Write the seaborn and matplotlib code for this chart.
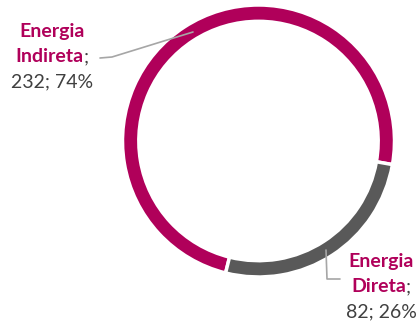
import matplotlib
matplotlib.use("Agg")
import matplotlib.pyplot as plt
import seaborn as sns
from matplotlib.offsetbox import TextArea, HPacker, VPacker, AnnotationBbox

# Data
categories = ["Energia Indireta", "Energia Direta"]
values = [232, 82]
percents = [74, 26]
colors = ["#B0005A", "#595959"]

sns.set_theme(style="white")
plt.rcParams["font.family"] = ["Lato", "DejaVu Sans"]

W, H = 419, 329
fig = plt.figure(figsize=(W / 100, H / 100), dpi=100)

# donut placement (pixels)
cx, cy, r = 258.5, 141, 136
ax = fig.add_axes([(cx - r) / W, (H - cy - r) / H, 2 * r / W, 2 * r / H])
ax.pie(values, colors=colors, startangle=256, counterclock=False, radius=1,
       wedgeprops=dict(width=0.12, edgecolor="white", linewidth=2.5))
ax.set_xlim(-1, 1)
ax.set_ylim(-1, 1)
ax.set_aspect("equal")
ax.axis("off")

label_col = "#B0005A"
text_col = "#404040"
fs = 14


def make_label(name, value, pct):
    first, second = name.split(" ")
    l1 = TextArea(first, textprops=dict(color=label_col, fontsize=fs, fontweight="bold"))
    l2a = TextArea(second, textprops=dict(color=label_col, fontsize=fs, fontweight="bold"))
    l2b = TextArea(";", textprops=dict(color=text_col, fontsize=fs))
    l2 = HPacker(children=[l2a, l2b], align="baseline", pad=0, sep=0)
    l3 = TextArea(f"{value}; {pct}%", textprops=dict(color=text_col, fontsize=fs))
    return VPacker(children=[l1, l2, l3], align="center", pad=0, sep=6)


positions = [(52, H - 57), (381, H - 287)]
for name, v, p, pos in zip(categories, values, percents, positions):
    box = make_label(name, v, p)
    ab = AnnotationBbox(box, pos, xycoords="figure pixels", frameon=False,
                        box_alignment=(0.5, 0.5), pad=0)
    fig.add_artist(ab)

# leader lines
line_col = "#A6A6A6"
fig.add_artist(plt.Line2D([100 / W, 112 / W, 193 / W],
                          [1 - 58 / H, 1 - 57 / H, 1 - 32 / H],
                          color=line_col, lw=1.2))
fig.add_artist(plt.Line2D([326 / W, 327 / W, 340 / W],
                          [1 - 250 / H, 1 - 279 / H, 1 - 279 / H],
                          color=line_col, lw=1.2))

fig.savefig("out.png", dpi=100, facecolor="white")
